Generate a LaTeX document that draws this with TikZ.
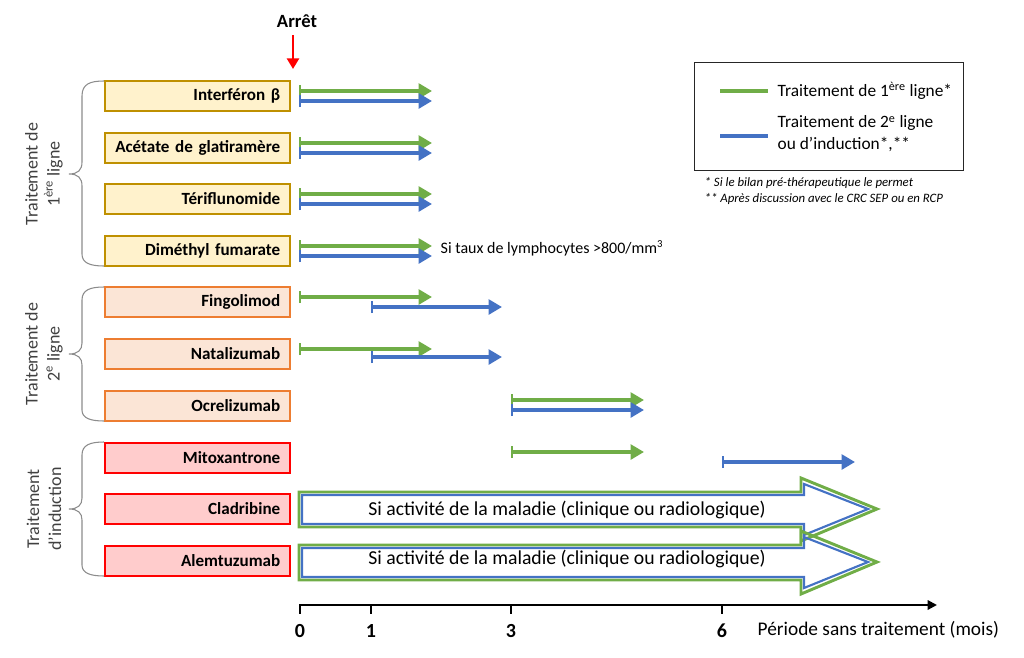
\documentclass[tikz,border=0pt]{standalone}
\usepackage{fontspec}
\setmainfont{Carlito}
\usetikzlibrary{arrows.meta,calc}
\definecolor{gr}{HTML}{70AD47}
\definecolor{bl}{HTML}{4472C4}
\definecolor{yfill}{HTML}{FFF2CC}
\definecolor{ydraw}{HTML}{BF9000}
\definecolor{ofill}{HTML}{FBE5D6}
\definecolor{odraw}{HTML}{ED7D31}
\definecolor{rfill}{HTML}{FFCCCC}
\definecolor{rdraw}{HTML}{FF0000}
\definecolor{lbl}{HTML}{404040}
\definecolor{brc}{HTML}{8C8C8C}
\begin{document}
\begin{tikzpicture}[x=0.75pt,y=-0.75pt,
  drugbox/.style={draw, line width=1.4pt, text width=124pt, align=right, inner xsep=7.5pt,
    minimum height=23pt, font=\bfseries\fontsize{12.8}{14}\selectfont, anchor=west},
  firstbox/.style={drugbox, fill=yfill, draw=ydraw},
  secondbox/.style={drugbox, fill=ofill, draw=odraw},
  indbox/.style={drugbox, fill=rfill, draw=rdraw},
  tline/.style={line width=3pt, {Bar[width=9pt,line width=1.6pt]}-{Triangle[length=10pt,width=11pt]}},
  gline/.style={tline, draw=gr},
  bline/.style={tline, draw=bl},
  bracestyle/.style={draw=brc, line width=0.8pt},
  sidelabel/.style={rotate=90, align=center, text=lbl, font=\fontsize{13.5}{16.5}\selectfont},
  ticklabel/.style={font=\bfseries\fontsize{15}{17}\selectfont},
  bigtext/.style={font=\fontsize{14.8}{16}\selectfont},
]
\useasboundingbox (0,0) rectangle (1024,657);

% Arret
\node[font=\bfseries\fontsize{14}{16}\selectfont] (arret) at (297,21) {Arrêt};
\coordinate (arrtop) at (293,35);
\coordinate (arrbot) at (293,69);
\draw[draw=red, line width=2.2pt, -{Triangle[length=8pt,width=9pt]}] (arrtop) -- (arrbot);

% boxes
\node[firstbox] (ifn) at (104,96) {Interféron β};
\node[firstbox] (aga) at (104,148) {Acétate de glatiramère};
\node[firstbox] (ter) at (104,199) {Tériflunomide};
\node[firstbox] (dmf) at (104,251) {Diméthyl fumarate};
\node[secondbox] (fin) at (104,302) {Fingolimod};
\node[secondbox] (nat) at (104,354) {Natalizumab};
\node[secondbox] (ocr) at (104,406) {Ocrelizumab};
\node[indbox] (mit) at (104,458) {Mitoxantrone};
\node[indbox] (cla) at (104,509) {Cladribine};
\node[indbox] (ale) at (104,561) {Alemtuzumab};

% braces
\draw[bracestyle] (104,81) .. controls (90,81) and (82,84) .. (82,96) -- (82,162) .. controls (82,170) and (78,174) .. (69,174) .. controls (78,174) and (82,178) .. (82,186) -- (82,254) .. controls (82,263) and (90,266) .. (104,266);
\draw[bracestyle] (104,287) .. controls (90,287) and (82,290) .. (82,300) -- (82,343) .. controls (82,350) and (78,354) .. (69,354) .. controls (78,354) and (82,358) .. (82,365) -- (82,410) .. controls (82,418) and (90,421) .. (104,421);
\draw[bracestyle] (104,442) .. controls (90,442) and (82,445) .. (82,455) -- (82,498) .. controls (82,505) and (78,509) .. (69,509) .. controls (78,509) and (82,513) .. (82,520) -- (82,565) .. controls (82,573) and (90,576) .. (104,576);

\node[sidelabel] (lab1) at (44,174) {Traitement de\\1\textsuperscript{ère} ligne};
\node[sidelabel] (lab2) at (44,354) {Traitement de\\2\textsuperscript{e} ligne};
\node[sidelabel] (lab3) at (44,509) {Traitement\\d’induction};

% timeline arrows
\foreach \yc in {96,148,199,251}{
  \draw[gline] (299,\yc-5) -- (432,\yc-5);
  \draw[bline] (299,\yc+5) -- (432,\yc+5);
}
\node[anchor=west, font=\fontsize{12}{14}\selectfont] (lymph) at (436,248) {Si taux de lymphocytes >800/mm\textsuperscript{3}};
\draw[gline] (299,297) -- (432,297);
\draw[bline] (371,307) -- (502,307);
\draw[gline] (299,349) -- (432,349);
\draw[bline] (371,357) -- (502,357);
\draw[gline] (511,400) -- (644,400);
\draw[bline] (511,410) -- (644,410);
\draw[gline] (511,452) -- (644,452);
\draw[bline] (722,462) -- (855,462);

% big arrows
\foreach \yc in {509,562}{
  \draw[draw=gr, line width=2.2pt, line join=miter] (299,\yc-17) -- (801,\yc-17) -- (801,\yc-31) -- (877,\yc) -- (801,\yc+32) -- (801,\yc+18) -- (299,\yc+18) -- cycle;
  \draw[draw=bl, line width=1.6pt, line join=miter] (302,\yc-14) -- (804,\yc-14) -- (804,\yc-25) -- (868,\yc) -- (804,\yc+26) -- (804,\yc+15) -- (302,\yc+15) -- cycle;
}
\node[bigtext] (act1) at (567,510) {Si activité de la maladie (clinique ou radiologique)};
\node[bigtext] (act2) at (567,559) {Si activité de la maladie (clinique ou radiologique)};

% axis
\coordinate (ax0) at (299,605);
\coordinate (axend) at (937,605);
\draw[line width=1.6pt, -{Triangle[length=7pt,width=7pt]}] (ax0) -- (axend);
\foreach \xx/\lab in {300/0,371/1,511/3,722/6}{
  \draw[line width=1.6pt] (\xx,605) -- (\xx,614);
  \node[ticklabel] (tick\lab) at (\xx,631) {\lab};
}
\node[anchor=west, font=\fontsize{14.5}{16}\selectfont] (axlab) at (753,630) {Période sans traitement (mois)};

% legend
\node[draw=black!85, line width=1.1pt, minimum width=201.75pt, minimum height=81pt, anchor=north west] (leg) at (694,62) {};
\coordinate (lg1a) at (720,91);
\coordinate (lg1b) at (768,91);
\coordinate (lg2a) at (720,136);
\coordinate (lg2b) at (768,136);
\draw[draw=gr, line width=3pt] (lg1a) -- (lg1b);
\draw[draw=bl, line width=3pt] (lg2a) -- (lg2b);
\node[anchor=west, font=\fontsize{13}{15}\selectfont] (legt1) at (773,91) {Traitement de 1\textsuperscript{ère} ligne*};
\node[anchor=west, align=left, font=\fontsize{13}{16.5}\selectfont] (legt2) at (773,134) {Traitement de 2\textsuperscript{e} ligne\\ou d’induction*,**};
\node[anchor=west, align=left, font=\itshape\fontsize{9.6}{11.5}\selectfont] (foot) at (700,191) {* Si le bilan pré-thérapeutique le permet\\** Après discussion avec le CRC SEP ou en RCP};
\end{tikzpicture}
\end{document}
